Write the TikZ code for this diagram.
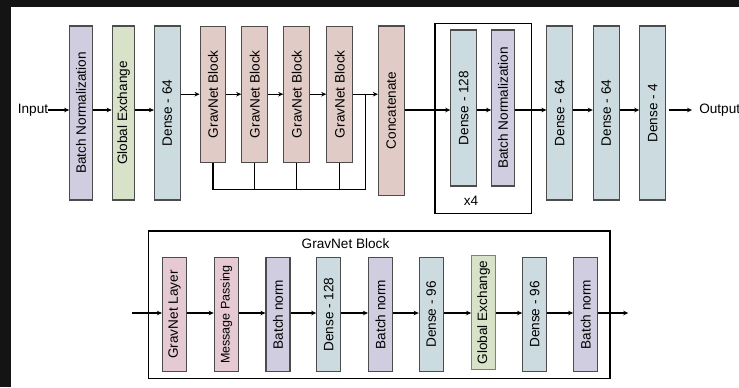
\documentclass[tikz,border=0pt]{standalone}
\usepackage{fontspec}
\setmainfont{Liberation Sans}
\usepackage{graphicx}
\usetikzlibrary{positioning}
\usetikzlibrary{arrows.meta}

\definecolor{normcol}{HTML}{D0CDE1}
\definecolor{exchcol}{HTML}{D7E2C8}
\definecolor{densecol}{HTML}{CBDBE0}
\definecolor{gravcol}{HTML}{E1CBC6}
\definecolor{msgcol}{HTML}{E6CAD3}
\definecolor{edgecol}{HTML}{141414}

\begin{document}
\begin{tikzpicture}[x=0.75pt,y=-0.75pt,
  every node/.style={inner sep=0pt,font=\fontsize{10.2}{12}\selectfont},
  blk/.style={draw=black!70,line width=0.8pt},
  normbox/.style={blk,fill=normcol},
  exchbox/.style={blk,fill=exchcol},
  densebox/.style={blk,fill=densecol},
  gravbox/.style={blk,fill=gravcol},
  msgbox/.style={blk,fill=msgcol},
  tall/.style={minimum height=130.5pt},
  grav/.style={minimum height=102.2pt},
  mid/.style={minimum height=117pt},
  low/.style={minimum height=85.8pt},
  thin/.style={minimum width=16.9pt},
  wide/.style={minimum width=19.3pt},
  small/.style={minimum width=18pt},
  frame/.style={draw=black,line width=0.9pt},
  flow/.style={-{Stealth[length=3.8pt,width=3.4pt]},line width=0.9pt}]
\useasboundingbox (0,0) rectangle (739,387);
\fill[edgecol] (0,0) rectangle (739,7);
\fill[edgecol] (0,0) rectangle (11,387);

% main network
\node (inp) at (33,110) {Input};
\node[normbox,thin,tall] (bn1) at (81,113) {\rotatebox{90}{Batch Normalization}};
\node[exchbox,thin,tall] (ge1) at (123.5,113) {\rotatebox{90}{Global Exchange}};
\node[densebox,wide,tall] (d64a) at (167.3,113) {\rotatebox{90}{Dense - 64}};
\foreach \i/\x in {1/213,2/254.7,3/296.7,4/339.7}{%
\node[gravbox,wide,grav] (gb\i) at (\x,94.2) {\rotatebox{90}{GravNet Block}};
}
\node[gravbox,wide,minimum height=126.8pt] (cat) at (391.3,110.5) {\rotatebox{90}{Concatenate}};
\node[frame,minimum width=72.5pt,minimum height=142.5pt] (rep) at (483.3,118.3) {};
\node[densebox,wide,mid] (d128) at (463.7,108) {\rotatebox{90}{Dense - 128}};
\node[normbox,thin,mid] (bn2) at (503,108) {\rotatebox{90}{Batch Normalization}};
\node (x4) at (471,201) {x4};
\node[densebox,wide,tall] (d64b) at (559.8,113) {\rotatebox{90}{Dense - 64}};
\node[densebox,wide,tall] (d64c) at (606.2,113) {\rotatebox{90}{Dense - 64}};
\node[densebox,wide,tall] (d4) at (652.7,113) {\rotatebox{90}{Dense - 4}};
\node[anchor=west] (out) at (699,110) {Output};

\draw[flow] (inp) -- (bn1.west |- inp);
\draw[flow] (bn1.east |- inp) -- (ge1.west |- inp);
\draw[flow] (ge1.east |- inp) -- (d64a.west |- inp);
\draw[flow] (d64a.east |- gb1) -- (gb1);
\draw[flow] (gb1) -- (gb2);
\draw[flow] (gb2) -- (gb3);
\draw[flow] (gb3) -- (gb4);
\draw[flow] (gb4) -- (cat.west |- gb4);
\draw[flow] (cat.east |- inp) -- (d128.west |- inp);
\draw[flow] (d128.east |- inp) -- (bn2.west |- inp);
\draw[flow] (bn2.east |- inp) -- (d64b.west |- inp);
\draw[flow] (d64b.east |- inp) -- (d64c.west |- inp);
\draw[flow] (d64c.east |- inp) -- (d4.west |- inp);
\draw[flow,shorten <=2.2pt,shorten >=5.2pt] (d4.east |- inp) -- (out.west);

% skip connections
\coordinate (jn) at (365.5,94.2);
\coordinate (bus) at (365.5,189.3);
\draw[line width=0.9pt] (gb1.south) |- (bus) -- (jn);
\foreach \i in {2,3,4}{%
\draw[line width=0.9pt] (gb\i.south) -- (gb\i.south |- bus);
}

% gravnet block detail
\node[frame,minimum width=346.3pt,minimum height=110.5pt] (gbox) at (379.2,304.7) {};
\node (gtitle) at (345.5,243.3) {GravNet Block};
\coordinate (gin) at (132.3,313);
\coordinate (gout) at (628.3,313);
\node[msgbox,small,low] (gl) at (174.5,314.5) {\rotatebox{90}{GravNet Layer}};
\node[msgbox,small,low] (mp) at (226.3,314.5) {\rotatebox{90}{\fontsize{9.4}{11}\selectfont Message Passing}};
\node[normbox,small,low] (bna) at (278,314.5) {\rotatebox{90}{Batch norm}};
\node[densebox,small,low] (d128b) at (328.8,314.5) {\rotatebox{90}{Dense - 128}};
\node[normbox,small,low] (bnb) at (380.5,314.5) {\rotatebox{90}{Batch norm}};
\node[densebox,small,low] (d96a) at (431.3,314.5) {\rotatebox{90}{Dense - 96}};
\node[exchbox,draw=black!50,small,low] (gex) at (483.7,312.5) {\rotatebox{90}{Global Exchange}};
\node[densebox,small,low] (d96b) at (534.7,314.5) {\rotatebox{90}{Dense - 96}};
\node[normbox,small,low] (bnc) at (585.7,314.5) {\rotatebox{90}{Batch norm}};

\draw[flow] (gin) -- (gl.west |- gin);
\draw[flow] (gl.east |- gin) -- (mp.west |- gin);
\draw[flow] (mp.east |- gin) -- (bna.west |- gin);
\draw[flow] (bna.east |- gin) -- (d128b.west |- gin);
\draw[flow] (d128b.east |- gin) -- (bnb.west |- gin);
\draw[flow] (bnb.east |- gin) -- (d96a.west |- gin);
\draw[flow] (d96a.east |- gin) -- (gex.west |- gin);
\draw[flow] (gex.east |- gin) -- (d96b.west |- gin);
\draw[flow] (d96b.east |- gin) -- (bnc.west |- gin);
\draw[flow] (bnc.east |- gin) -- (gout);
\end{tikzpicture}
\end{document}
